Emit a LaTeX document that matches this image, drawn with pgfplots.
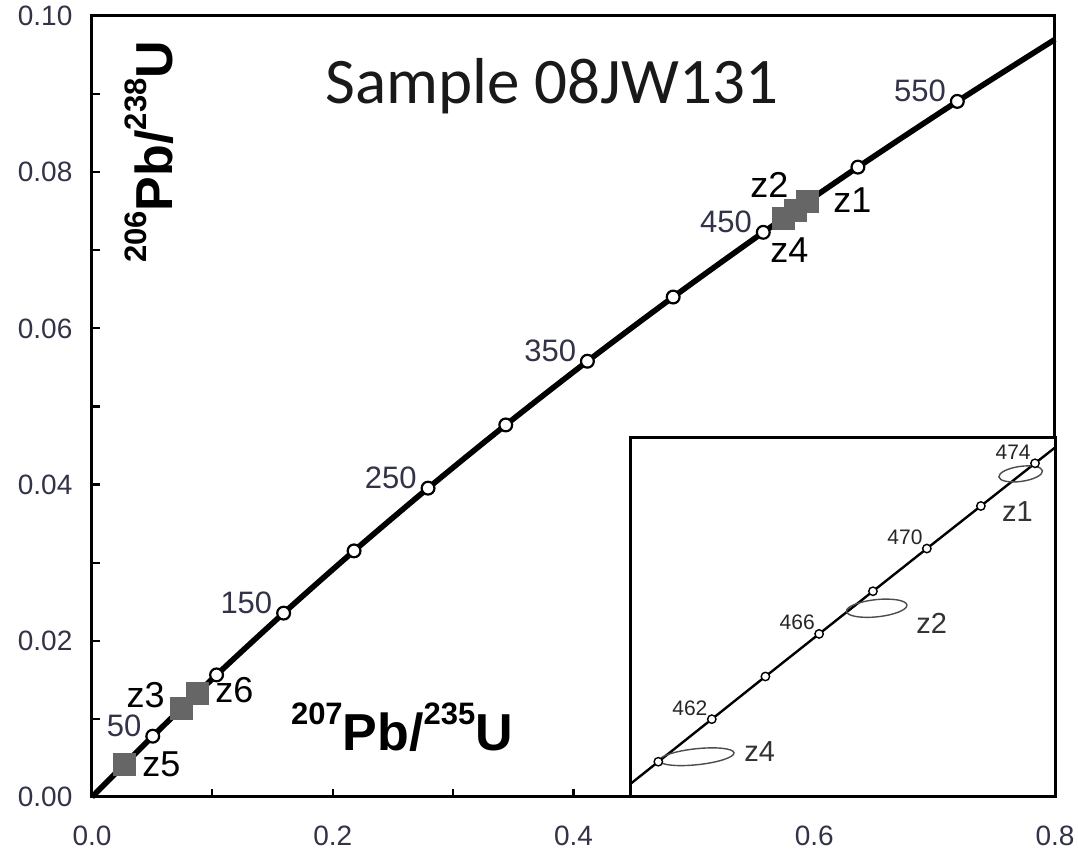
\documentclass[border=0pt]{standalone}
\usepackage{fontspec}
\setmainfont{Liberation Sans}
\newfontfamily\calibri{Carlito}
\usepackage{pgfplots}
\usepackage{pgfplotstable}
\pgfplotsset{compat=1.18}
\definecolor{ticktxt}{RGB}{50,50,72}
\definecolor{sqgray}{RGB}{102,102,102}
\newcommand{\isosup}[1]{\raisebox{13pt}{\fontsize{15.5}{16}\selectfont\bfseries #1}}

\pgfplotstableread{
t x y
0 0 0
50 0.050475 0.0077864
100 0.103498 0.0156334
150 0.159197 0.0235416
200 0.217708 0.0315113
250 0.279171 0.0395431
300 0.343738 0.0476374
350 0.411563 0.0557948
400 0.482812 0.0640155
450 0.557657 0.0723005
500 0.636280 0.0806498
550 0.718871 0.0890642
596.83 0.8 0.0970042
}\tblconcordia

\pgfplotstableread{
t x y
50 0.050475 0.0077864
100 0.103498 0.0156334
150 0.159197 0.0235416
200 0.217708 0.0315113
250 0.279171 0.0395431
300 0.343738 0.0476374
350 0.411563 0.0557948
400 0.482812 0.0640155
450 0.557657 0.0723005
500 0.636280 0.0806498
550 0.718871 0.0890642
}\tblticks

\pgfplotstableread{
name x y
z5 0.0268 0.0042
z3 0.0745 0.0114
z6 0.0873 0.0133
z4 0.5746 0.0741
z2 0.5840 0.0751
z1 0.5941 0.0762
}\tblzircons

\pgfplotstableread{
t x y
458 0.569978 0.073632
460 0.573073 0.073965
462 0.576175 0.074298
464 0.579282 0.074632
466 0.582396 0.074965
468 0.585516 0.075299
470 0.588642 0.075633
472 0.591774 0.075966
474 0.594912 0.076300
476 0.598057 0.076634
}\tblinset

\pgfplotstableread{
t x y
460 0.573073 0.073965
462 0.576175 0.074298
464 0.579282 0.074632
466 0.582396 0.074965
468 0.585516 0.075299
470 0.588642 0.075633
472 0.591774 0.075966
474 0.594912 0.076300
}\tblinsetticks

\begin{document}
\begin{tikzpicture}
\useasboundingbox (-46pt,-35pt) rectangle (493pt,398.5pt);
\begin{axis}[
  at={(0pt,0pt)}, anchor=south west,
  scale only axis, width=481.5pt, height=390.5pt,
  xmin=0, xmax=0.8, ymin=0, ymax=0.1,
  axis line style={line width=1.5pt},
  tick align=inside,
  xtick={0,0.2,0.4,0.6,0.8}, minor xtick={0.1,0.3,0.5,0.7},
  ytick={0,0.02,0.04,0.06,0.08,0.1}, minor ytick={0.01,0.03,0.05,0.07,0.09},
  xtick pos=left, ytick pos=left,
  major tick length=4pt, minor tick length=4pt,
  every tick/.style={line width=1.1pt, black},
  scaled ticks=false,
  /pgf/number format/assume math mode=true,
  tick label style={font=\fontsize{14}{16}\selectfont, color=ticktxt},
  xticklabel style={/pgf/number format/.cd, fixed, fixed zerofill, precision=1, /tikz/.cd, yshift=-10.8pt},
  yticklabel style={/pgf/number format/.cd, fixed, fixed zerofill, precision=2, /tikz/.cd, xshift=-6.3pt},
  clip=false,
]
\addplot[line width=2.8pt, black, smooth] table[x=x,y=y] {\tblconcordia};
\addplot[only marks, mark=*, mark size=3.2pt, mark options={fill=white, draw=black, line width=1.1pt}] table[x=x,y=y] {\tblticks};
\addplot[only marks, mark=square*, mark size=5.5pt, mark options={fill=sqgray, draw=sqgray}] table[x=x,y=y] {\tblzircons};

\node[font=\calibri\fontsize{32.5}{36}\selectfont, anchor=base, text=black!90] at (axis cs:0.3821,0.0888) {Sample 08JW131};

\node[font=\bfseries\fontsize{26}{30}\selectfont, anchor=base] at (axis cs:0.2575,0.0060) {\isosup{207}Pb/\isosup{235}U};
\node[font=\bfseries\fontsize{26}{30}\selectfont, anchor=base, rotate=90] at (axis cs:0.0665,0.0826) {\isosup{206}Pb/\isosup{238}U};

\begin{scope}[every node/.style={font=\fontsize{15.5}{17}\selectfont, text=ticktxt, anchor=base east, xshift=-5.5pt, inner sep=0pt}]
\node at (axis cs:0.050475,0.0077864) {50};
\node at (axis cs:0.159197,0.0235416) {150};
\node at (axis cs:0.279171,0.0395431) {250};
\node at (axis cs:0.411563,0.0557948) {350};
\node at (axis cs:0.557657,0.0723005) {450};
\node at (axis cs:0.718871,0.0890642) {550};
\end{scope}

\begin{scope}[every node/.style={font=\fontsize{18}{20}\selectfont, text=black, inner sep=0pt}]
\node[anchor=base west] at (axis cs:0.0415,0.00256) {z5};
\node[anchor=base west] at (axis cs:0.1022,0.01204) {z6};
\node[anchor=base east] at (axis cs:0.0606,0.01152) {z3};
\node[anchor=base west] at (axis cs:0.5466,0.0767) {z2};
\node[anchor=base west] at (axis cs:0.6156,0.0749) {z1};
\node[anchor=base west] at (axis cs:0.5632,0.0684) {z4};
\end{scope}
\end{axis}

\begin{axis}[
  at={(269pt,0pt)}, anchor=south west,
  scale only axis, width=212.5pt, height=179.5pt,
  xmin=0.571432, xmax=0.596071, ymin=0.073689, ymax=0.076498,
  xtick=\empty, ytick=\empty,
  axis line style={line width=1.5pt},
  axis background/.style={fill=white},
]
\addplot[line width=1.2pt, black] table[x=x,y=y] {\tblinset};
\draw[gray!60!black, line width=0.7pt, rotate around={6:(axis cs:0.575299,0.074004)}] (axis cs:0.575299,0.074004) ellipse [x radius=18.75pt, y radius=4pt];
\draw[gray!60!black, line width=0.7pt, rotate around={6:(axis cs:0.585734,0.075166)}] (axis cs:0.585734,0.075166) ellipse [x radius=15.2pt, y radius=4.3pt];
\draw[gray!60!black, line width=0.7pt, rotate around={8:(axis cs:0.594082,0.076217)}] (axis cs:0.594082,0.076217) ellipse [x radius=11pt, y radius=3.75pt];
\addplot[only marks, mark=*, mark size=2.1pt, mark options={fill=white, draw=black, line width=0.7pt}] table[x=x,y=y] {\tblinsetticks};

\begin{scope}[every node/.style={font=\fontsize{10.5}{12}\selectfont, text=black!85, anchor=base east, xshift=-2pt, yshift=2pt, inner sep=0pt}]
\node at (axis cs:0.576175,0.074298) {462};
\node at (axis cs:0.582396,0.074965) {466};
\node at (axis cs:0.588642,0.075633) {470};
\node at (axis cs:0.594912,0.076300) {474};
\end{scope}
\begin{scope}[every node/.style={font=\fontsize{14.5}{16}\selectfont, text=black!80, anchor=base west, inner sep=0pt}]
\node at (axis cs:0.592981,0.075843) {z1};
\node at (axis cs:0.588013,0.074970) {z2};
\node at (axis cs:0.578041,0.073965) {z4};
\end{scope}
\end{axis}
\end{tikzpicture}
\end{document}
